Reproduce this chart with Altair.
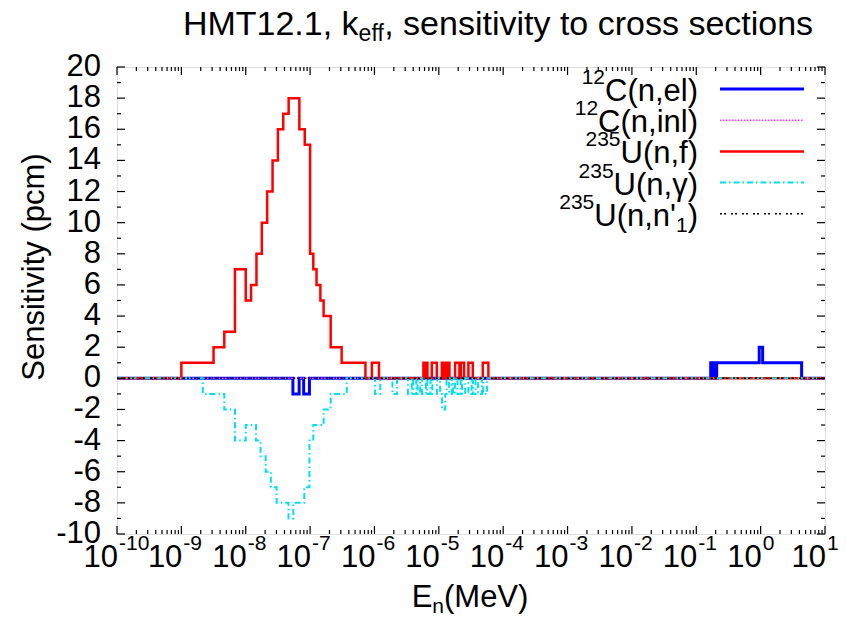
import altair as alt
import pandas as pd

W, H = 708, 467
FONT = "Liberation Sans"
FS = 31      # main text size
FSS = 21     # super/subscript size

# ---------------- data: bin edges as log10(E / MeV), values in pcm ----------------
# 235U(n,f)
uf_lo = [-9.000, -8.500, -8.333, -8.167, -8.000, -7.917, -7.833, -7.750, -7.667, -7.583,
         -7.500, -7.417, -7.333, -7.167, -7.083, -7.000, -6.950, -6.900, -6.840, -6.790,
         -6.680, -6.510, -6.040, -5.239, -5.205, -5.109, -4.953, -4.925, -4.895, -4.865,
         -4.747, -4.658, -4.540, -4.317]
uf_hi = [-8.500, -8.333, -8.167, -8.000, -7.917, -7.833, -7.750, -7.667, -7.583, -7.500,
         -7.417, -7.333, -7.167, -7.083, -7.000, -6.950, -6.900, -6.840, -6.790, -6.680,
         -6.510, -6.140, -5.930, -5.215, -5.177, -5.031, -4.930, -4.900, -4.870, -4.835,
         -4.680, -4.607, -4.472, -4.230]
uf_val = [1, 2, 3, 7, 5, 6, 8, 10, 12, 14,
          16, 17, 18, 16, 15, 8, 7, 6, 5, 4,
          2, 1, 1, 1, 1, 1, 1, 1, 1, 1,
          1, 1, 1, 1]

# 235U(n,gamma)
ug_lo = [-8.667, -8.333, -8.167, -8.000, -7.840, -7.770, -7.690, -7.610, -7.520, -7.335,
         -7.260, -7.090, -7.010, -6.950, -6.790, -6.680,
         -5.990, -5.720, -5.480, -5.400, -5.330, -5.260, -5.180, -5.100, -4.980, -4.950,
         -4.900, -4.840, -4.780, -4.710, -4.640, -4.540, -4.470, -4.390, -4.310]
ug_hi = [-8.333, -8.167, -8.000, -7.840, -7.770, -7.690, -7.610, -7.520, -7.335, -7.260,
         -7.090, -7.010, -6.950, -6.790, -6.680, -6.430,
         -5.910, -5.650, -5.420, -5.350, -5.290, -5.200, -5.130, -5.030, -4.950, -4.900,
         -4.880, -4.800, -4.750, -4.660, -4.590, -4.490, -4.430, -4.330, -4.250]
ug_val = [-1, -2, -4, -3, -4, -5, -6, -7, -8, -9,
          -8, -7, -4, -3, -2, -1,
          -1, -1, -1, -1, -1, -1, -1, -1, -1, -2,
          -1, -1, -1, -1, -1, -1, -1, -1, -1]

# 12C(n,el)
ce_lo = [-7.267, -7.100, -0.776, -0.753, -0.730, -0.707, -0.683, -0.022, 0.031]
ce_hi = [-7.170, -7.010, -0.765, -0.742, -0.719, -0.695, -0.022, 0.031, 0.637]
ce_val = [-1, -1, 1, 1, 1, 1, 1, 2, 1]

# 12C(n,inl) and 235U(n,n'1): zero everywhere
ci_lo, ci_hi, ci_val = [], [], []
un_lo, un_hi, un_val = [], [], []

# axis ticks
x_major_exp = list(range(-10, 2))
y_major = list(range(-10, 21, 2))
y_minor = list(range(-9, 20, 2))

LOG_START, LOG_END = -10.0, 1.0


def steps(lo, hi, val, name):
    assert len(lo) == len(hi) == len(val)
    pts = [(LOG_START, 0.0)]
    prev = LOG_START
    for a, b, v in sorted(zip(lo, hi, val)):
        if a > prev + 1e-9:
            pts.append((prev, 0.0))
        pts.append((a, float(v)))
        prev = b
    pts.append((prev, 0.0))
    pts.append((LOG_END, 0.0))
    return pd.DataFrame({"E": [10 ** p[0] for p in pts],
                         "S": [p[1] for p in pts],
                         "i": list(range(len(pts))),
                         "series": name})


xs = alt.Scale(type="log", domain=[1e-10, 10])
ys = alt.Scale(domain=[-10, 20])


def series_layer(df, color, width, dash=None):
    kw = dict(interpolate="step-after", clip=True, color=color, strokeWidth=width)
    if dash:
        kw["strokeDash"] = dash
    return alt.Chart(df).mark_line(**kw).encode(
        x=alt.X("E:Q", scale=xs, axis=None),
        y=alt.Y("S:Q", scale=ys, axis=None),
        order=alt.Order("i:Q"),
    )


C_BLUE, C_MAG, C_RED, C_CYAN, C_BLK = "#0000ff", "#ff33ff", "#ff0000", "#00e0ee", "#000000"
D_MAG, D_CYAN, D_BLK = [1.5, 1.5], [6, 3, 1.5, 3], [2, 2, 2, 5]

layers = [
    series_layer(steps(ce_lo, ce_hi, ce_val, "12C(n,el)"), C_BLUE, 3),
    series_layer(steps(ci_lo, ci_hi, ci_val, "12C(n,inl)"), C_MAG, 1.5, D_MAG),
    series_layer(steps(uf_lo, uf_hi, uf_val, "235U(n,f)"), C_RED, 2.5),
    series_layer(steps(ug_lo, ug_hi, ug_val, "235U(n,g)"), C_CYAN, 2, D_CYAN),
    series_layer(steps(un_lo, un_hi, un_val, "235U(n,n'1)"), C_BLK, 1.5, D_BLK),
]

# ---------------- ticks (inward, mirrored) ----------------
xmaj = pd.DataFrame({"E": [10.0 ** k for k in x_major_exp],
                     "base": ["10"] * len(x_major_exp),
                     "exp": [str(k) for k in x_major_exp]})
xmin = pd.DataFrame({"E": [m * 10.0 ** k for k in range(-10, 1) for m in range(2, 10)]})
ymaj = pd.DataFrame({"v": y_major, "lab": [str(v) for v in y_major]})
ymin = pd.DataFrame({"v": y_minor})

MAJ, MIN = 8, 4
tick_kw = dict(color="black", strokeWidth=1.2)
for df, ln in ((xmaj, MAJ), (xmin, MIN)):
    layers.append(alt.Chart(df).mark_rule(**tick_kw).encode(
        x=alt.X("E:Q", scale=xs, axis=None), y=alt.value(H), y2=alt.value(H - ln)))
    layers.append(alt.Chart(df).mark_rule(**tick_kw).encode(
        x=alt.X("E:Q", scale=xs, axis=None), y=alt.value(0), y2=alt.value(ln)))
for df, ln in ((ymaj, MAJ), (ymin, MIN)):
    layers.append(alt.Chart(df).mark_rule(**tick_kw).encode(
        y=alt.Y("v:Q", scale=ys, axis=None), x=alt.value(0), x2=alt.value(ln)))
    layers.append(alt.Chart(df).mark_rule(**tick_kw).encode(
        y=alt.Y("v:Q", scale=ys, axis=None), x=alt.value(W), x2=alt.value(W - ln)))

# tick labels
layers.append(alt.Chart(ymaj).mark_text(align="right", baseline="middle", font=FONT,
                                        fontSize=FS, color="black").encode(
    y=alt.Y("v:Q", scale=ys, axis=None), x=alt.value(-16), text="lab:N"))
layers.append(alt.Chart(xmaj).mark_text(align="right", baseline="middle", font=FONT,
                                        fontSize=FS, color="black", dx=1).encode(
    x=alt.X("E:Q", scale=xs, axis=None), y=alt.value(H + 24), text="base:N"))
layers.append(alt.Chart(xmaj).mark_text(align="left", baseline="middle", font=FONT,
                                        fontSize=FSS, color="black", dx=2).encode(
    x=alt.X("E:Q", scale=xs, axis=None), y=alt.value(H + 10), text="exp:N"))

# ---------------- rich text helper ----------------
AW = {'0': 556, '1': 556, '2': 556, '3': 556, '5': 556, 'C': 722, 'U': 722, '(': 333, ')': 333,
      'n': 556, ',': 278, 'e': 556, 'l': 222, 'i': 222, 'f': 278, 'γ': 500, "'": 191,
      'E': 667, 'M': 833, 'V': 667, 'k': 500, 'H': 722, 'T': 611, '.': 278, ' ': 278,
      's': 500, 't': 278, 'v': 500, 'y': 500, 'o': 556, 'c': 500, 'r': 333}


def tw(s, size):
    return sum(AW.get(ch, 556) for ch in s) * size / 1000.0


one = pd.DataFrame({"a": [0]})


def txt(s, x, y, size=FS, align="left", angle=0):
    kw = dict(align=align, baseline="middle", font=FONT, fontSize=size, color="black")
    if angle:
        kw["angle"] = angle
    return alt.Chart(one).mark_text(**kw).encode(
        x=alt.value(x), y=alt.value(y), text=alt.value(s))


def rich(pieces, x, y, anchor="center", fs=FS, fss=FSS):
    """pieces: list of (text, kind) with kind in n / sup / sub"""
    sizes = {"n": fs, "sup": fss, "sub": fss}
    offs = {"n": 0, "sup": -14, "sub": 9}
    total = sum(tw(t, sizes[k]) for t, k in pieces)
    if anchor == "center":
        cur = x - total / 2
    elif anchor == "right":
        cur = x - total
    else:
        cur = x
    out = []
    for t, k in pieces:
        out.append(txt(t, cur, y + offs[k], sizes[k], "left"))
        cur += tw(t, sizes[k])
    return out


# title, axis titles
layers += rich([("HMT12.1, k", "n"), ("eff", "sub"), (", sensitivity to cross sections", "n")],
               381, -42, fs=34, fss=23)
layers += rich([("E", "n"), ("n", "sub"), ("(MeV)", "n")], 353, 531)
layers.append(txt("Sensitivity (pcm)", -82, 200, FS, "center", 270))

# ---------------- legend ----------------
leg_names = [
    [("12", "sup"), ("C(n,el)", "n")],
    [("12", "sup"), ("C(n,inl)", "n")],
    [("235", "sup"), ("U(n,f)", "n")],
    [("235", "sup"), ("U(n,γ)", "n")],
    [("235", "sup"), ("U(n,n'", "n"), ("1", "sub"), (")", "n")],
]
leg_style = [(C_BLUE, 3, None), (C_MAG, 1.5, D_MAG), (C_RED, 2.5, None),
             (C_CYAN, 2, D_CYAN), (C_BLK, 1.5, D_BLK)]
for r, (pieces, (col, wdt, dash)) in enumerate(zip(leg_names, leg_style)):
    ly = 22 + r * 31.2
    layers += rich(pieces, 581, ly + 3, anchor="right")
    kw = dict(color=col, strokeWidth=wdt)
    if dash:
        kw["strokeDash"] = dash
    layers.append(alt.Chart(one).mark_rule(**kw).encode(
        x=alt.value(603), x2=alt.value(687), y=alt.value(ly)))

chart = alt.layer(*layers).properties(
    width=W, height=H,
    autosize=alt.AutoSizeParams(type="none"),
    padding={"left": 117, "top": 67, "right": 21, "bottom": 94},
).configure_view(stroke="black", strokeWidth=1.5).configure(background="white")

chart.save("out.html", embed_options={"renderer": "svg", "actions": False})
